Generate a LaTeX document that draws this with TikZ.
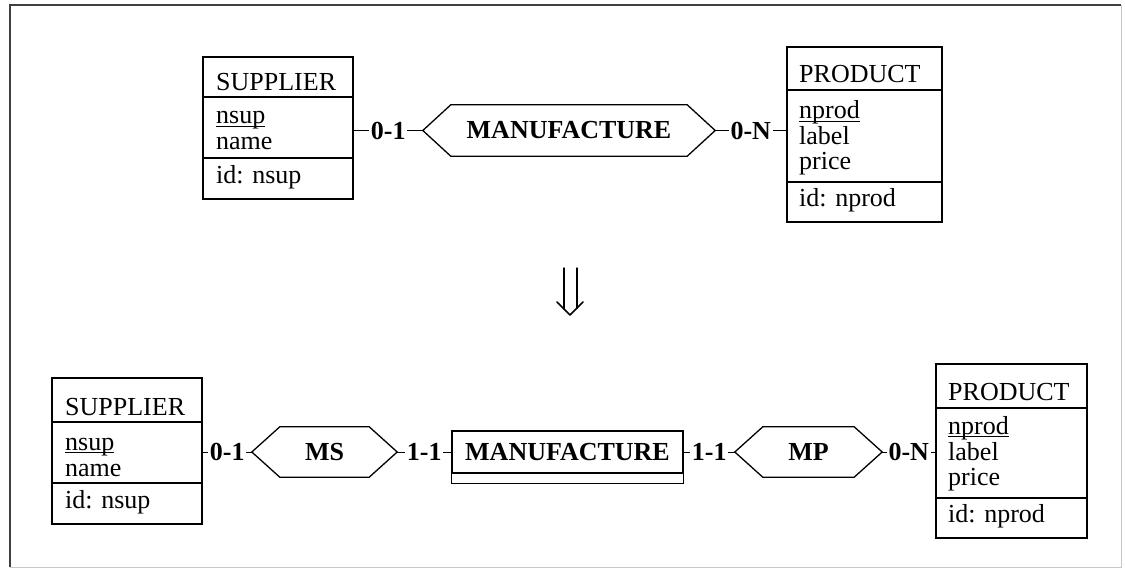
\documentclass[tikz,border=0pt]{standalone}
\usepackage{fontspec}
\setmainfont{Liberation Serif}
\usetikzlibrary{calc}

% underlined identifier attribute, rule just below the baseline
\newcommand\keyattr[1]{\setbox0=\hbox{#1}\rlap{\vrule width\wd0 height -2pt depth 3.3pt}\box0}

% hexagonal relationship outline around a named node
\newcommand\drawhex[2]{%
  \draw[hexline] (#1.west) -- ([xshift=#2]#1.north west) -- ([xshift=-#2]#1.north east)
    -- (#1.east) -- ([xshift=-#2]#1.south east) -- ([xshift=#2]#1.south west) -- cycle;}

\begin{document}
\begin{tikzpicture}[x=1pt,y=-1pt,
  every node/.style={font=\fontsize{26}{30}\selectfont},
  entity/.style={draw, line width=1.3pt, inner sep=0pt},
  attr/.style={anchor=base west, inner sep=0pt, text height=0.72em, text depth=0.2em},
  rel/.style={inner sep=0pt, font=\fontsize{26}{30}\selectfont\bfseries},
  hexline/.style={line width=1.3pt, line join=miter},
  card/.style={fill=white, inner sep=1.5pt, font=\fontsize{26}{30}\selectfont\bfseries},
  link/.style={line width=1pt},
  sep/.style={line width=1.3pt},
  darrow/.style={line width=1.5pt, line cap=round, line join=round}]

\useasboundingbox (0,0) rectangle (1125,575);

% outer frame
\draw[line width=2pt, black!75] (9.5,567) -- (9.5,5) -- (1121,5);
\draw[line width=1pt, black!22] (1121,5) -- (1121,567) -- (9.5,567);

% ---------- conceptual schema ----------
\node[entity, minimum width=150pt, minimum height=142pt] (sup1) at (278,128) {};
\node[attr] (sup1t) at (216,91) {SUPPLIER};
\draw[sep] (sup1.west |- 0,97) -- (sup1.east |- 0,97);
\node[attr] (sup1a) at (216,124) {\keyattr{nsup}};
\node[attr] (sup1b) at (216,150) {name};
\draw[sep] (sup1.west |- 0,158) -- (sup1.east |- 0,158);
\node[attr] (sup1i) at (216,183) {id: nsup};

\node[rel, minimum width=292pt, minimum height=51pt] (man1) at (569,130.5) {MANUFACTURE};
\drawhex{man1}{28pt}

\node[entity, minimum width=155pt, minimum height=175pt] (prod1) at (864.5,134.5) {};
\node[attr] (prod1t) at (799,83) {PRODUCT};
\draw[sep] (prod1.west |- 0,90) -- (prod1.east |- 0,90);
\node[attr] (prod1a) at (799,119) {\keyattr{nprod}};
\node[attr] (prod1b) at (799,145) {label};
\node[attr] (prod1c) at (799,170) {price};
\draw[sep] (prod1.west |- 0,182) -- (prod1.east |- 0,182);
\node[attr] (prod1i) at (799,207) {id: nprod};

\draw[link] (sup1.east |- man1.west) -- node[card] {0-1} (man1.west);
\draw[link] (man1.east) -- node[card] {0-N} (prod1.west |- man1.east);

% ---------- transformation arrow ----------
\draw[darrow] (564,268) -- (564,309);
\draw[darrow] (577,268) -- (577,308);
\draw[darrow] (557,302) -- (570,315) -- (583,302);

% ---------- transformed schema ----------
\node[entity, minimum width=150pt, minimum height=146pt] (sup2) at (127,451) {};
\node[attr] (sup2t) at (65,415) {SUPPLIER};
\draw[sep] (sup2.west |- 0,422) -- (sup2.east |- 0,422);
\node[attr] (sup2a) at (65,450) {\keyattr{nsup}};
\node[attr] (sup2b) at (65,476) {name};
\draw[sep] (sup2.west |- 0,483) -- (sup2.east |- 0,483);
\node[attr] (sup2i) at (65,508) {id: nsup};

\node[rel, minimum width=145pt, minimum height=50pt] (ms) at (324.5,452) {MS};
\drawhex{ms}{28pt}

\node[entity, rel, minimum width=231pt, minimum height=42pt] (man2) at (567.5,452) {MANUFACTURE};
\draw[sep] (man2.south west) rectangle ([yshift=-10pt]man2.south east);

\node[rel, minimum width=147pt, minimum height=50pt] (mp) at (808.5,452) {MP};
\drawhex{mp}{28pt}

\node[entity, minimum width=151pt, minimum height=174pt] (prod2) at (1011.5,451) {};
\node[attr] (prod2t) at (948,400) {PRODUCT};
\draw[sep] (prod2.west |- 0,408) -- (prod2.east |- 0,408);
\node[attr] (prod2a) at (948,434) {\keyattr{nprod}};
\node[attr] (prod2b) at (948,460) {label};
\node[attr] (prod2c) at (948,485) {price};
\draw[sep] (prod2.west |- 0,498) -- (prod2.east |- 0,498);
\node[attr] (prod2i) at (948,522) {id: nprod};

\draw[link] (sup2.east |- ms.west) -- node[card] {0-1} (ms.west);
\draw[link] (ms.east) -- node[card] {1-1} (man2.west);
\draw[link] (man2.east) -- node[card] {1-1} (mp.west);
\draw[link] (mp.east) -- node[card] {0-N} (prod2.west |- mp.east);

\end{tikzpicture}
\end{document}
